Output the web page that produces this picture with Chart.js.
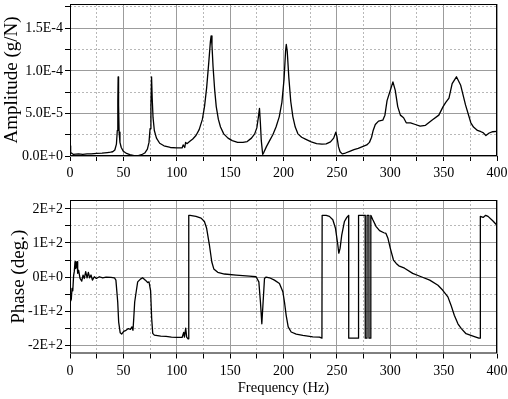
<!DOCTYPE html>
<html>
<head>
<meta charset="utf-8">
<script src="https://cdn.jsdelivr.net/npm/chart.js@4.4.0/dist/chart.umd.min.js"></script>
<style>
  html, body { margin: 0; padding: 0; background: #fff; }
  #wrap { position: relative; width: 508px; height: 399px; }
  .box { position: absolute; left: 0; width: 508px; }
  #ampBox { top: 0; height: 190px; }
  #phaseBox { top: 190px; height: 209px; }
</style>
</head>
<body>
<div id="wrap">
  <div class="box" id="ampBox"><canvas id="ampChart" width="508" height="190"></canvas></div>
  <div class="box" id="phaseBox"><canvas id="phaseChart" width="508" height="209"></canvas></div>
</div>
<script>
// amplitude (values in 1E-5 g/N)
const ampFreq = [0, 0.6, 3, 8, 12, 16, 20, 25, 30, 35, 38, 40, 42, 43.5, 44.3, 44.8, 45.1, 45.5, 46, 46.8, 48, 50, 53, 56, 60, 64, 67, 70, 72.5, 74, 75, 75.8, 76.4, 77, 77.8, 79, 81, 84, 88, 94, 100, 105, 106, 107.5, 108.3, 109.5, 112, 115, 118, 121, 124, 126, 128, 130, 131.5, 132.2, 133, 134, 135.5, 137, 139, 141, 144, 148, 152, 157, 162, 166, 170, 173, 175, 176.5, 177.5, 178.3, 179.2, 180.5, 181.5, 184, 187, 190, 193, 196, 198.5, 200.5, 202, 202.6, 203.5, 205, 206.8, 208.8, 211, 213.5, 217, 221, 226, 231, 236, 240, 244, 247, 249, 250, 251.5, 253, 255, 258, 262, 266, 270, 274, 278, 280.5, 282.5, 284, 286, 289, 293, 295, 297, 300, 302.5, 304.7, 307, 309.5, 312.5, 315, 319, 323.5, 328, 333, 339, 345.5, 349.5, 352, 355, 358, 362, 366, 370.5, 375.5, 378, 381.7, 385, 387, 389.6, 392.7, 396, 400];
const ampValues = [1.2, 0.4, 0.2, 0.25, 0.2, 0.25, 0.25, 0.3, 0.33, 0.4, 0.45, 0.5, 0.7, 1.4, 3.0, 6.5, 9.3, 6.0, 2.8, 1.6, 1.0, 0.55, 0.3, 0.15, 0.05, 0.05, 0.15, 0.35, 0.8, 1.6, 3.2, 6.0, 9.3, 6.8, 4.5, 3.0, 2.1, 1.5, 1.2, 1.0, 0.95, 0.95, 1.3, 1.0, 1.6, 1.45, 1.7, 2.0, 2.4, 3.1, 4.3, 5.8, 8.0, 11.0, 13.4, 14.1, 13.0, 10.5, 7.8, 5.8, 4.3, 3.4, 2.6, 2.1, 1.8, 1.6, 1.6, 1.7, 2.1, 2.6, 3.3, 4.6, 5.6, 4.0, 1.8, 0.2, 0.4, 1.1, 1.8, 2.5, 3.4, 4.6, 6.3, 9.0, 12.4, 13.1, 12.3, 9.2, 6.4, 4.6, 3.4, 2.6, 2.2, 1.95, 1.65, 1.46, 1.4, 1.42, 1.65, 2.1, 2.8, 2.3, 1.1, 0.5, 0.25, 0.35, 0.55, 0.75, 0.9, 1.1, 1.3, 1.6, 2.2, 3.0, 3.7, 4.1, 4.2, 4.8, 6.5, 7.7, 8.7, 7.7, 5.8, 4.8, 4.5, 3.9, 3.9, 3.7, 3.5, 3.6, 4.2, 4.8, 5.8, 6.3, 6.8, 8.5, 9.3, 8.3, 6.0, 3.9, 3.4, 3.0, 2.85, 2.75, 2.4, 2.7, 2.85, 2.9];

// phase in degrees
const phaseFreq = [0, 0.6, 1.2, 1.9, 2.6, 3.4, 4, 4.7, 5.3, 5.9, 6.6, 7.2, 8.1, 9.4, 11, 12.2, 13.4, 14.7, 16, 17.2, 18.4, 19.7, 21, 22.8, 24.7, 27.5, 30.6, 33.8, 38.4, 41.6, 43, 44.7, 45.6, 47, 48.4, 50.3, 52.5, 54.7, 56.6, 58, 59, 59.7, 60.6, 62, 63.4, 66, 68, 70.6, 72.8, 74, 75.5, 76.5, 77.5, 79, 85, 90, 95, 100, 105, 106.5, 107.2, 108.4, 109.3, 110.6, 111.2, 111.3, 112.5, 118, 122.8, 125.9, 128, 130.6, 132.8, 134.7, 138.4, 144.7, 155.6, 168, 174.3, 176.9, 178.4, 179.7, 180.9, 182.2, 183.7, 186.9, 191.5, 196.2, 199.4, 200.9, 202.5, 204.4, 207.2, 211.9, 218.1, 227.5, 233.7, 236, 236.2, 240, 243, 246.2, 248.7, 250.9, 251.8, 253, 254.6, 257.1, 259.3, 261, 261.1, 270.2, 270.3, 276.5, 276.6, 278.2, 278.3, 280, 280.1, 281.7, 281.8, 283.7, 286.8, 290, 294, 296, 297.8, 300, 303, 305.6, 308, 313.4, 321, 329, 337, 344.7, 349, 354, 357, 360, 363.4, 366.6, 371, 377.5, 383, 384.3, 384.4, 387, 389.4, 391.6, 396, 400];
const phaseValues = [-55, -70, -65, -33, -40, 5, 16, 45, 25, 30, 45, 11, 20, -4, -12, 6, -4, 16, -2, 14, -2, 6, -9, 1, -4, 1, -2, 0, -1, -2, -9, -73, -132, -163, -167, -159, -156, -151, -153, -146, -156, -122, -73, -43, -14, -6, -2, -9, -16, -14, -40, -120, -165, -170, -173, -174, -176, -177, -177, -162, -176, -150, -176, -181, -181, 181, 181, 178, 173, 163, 143, 94, 45, 24, 14, 9, 6, 3, 1, -14, -73, -137, -73, -4, 0, -2, -9, -19, -43, -73, -112, -146, -161, -167, -171, -175, -176, -179, 181, 181, 178, 168, 143, 94, 70, 84, 124, 163, 175, 181, -179, -179, 181, 181, -179, -179, 181, 181, -179, -179, 181, 168, 148, 136, 130, 128, 114, 85, 50, 40, 33, 26, 11, 1, -9, -24, -38, -58, -83, -112, -137, -151, -166, -173, -179, -179, 178, 175, 181, 178, 165, 152];

// tick positions (major ones get labels)
const freqTicks = [0, 25, 50, 75, 100, 125, 150, 175, 200, 225, 250, 275, 300, 325, 350, 375, 400];
const ampTicks = [0, 2.5, 5, 7.5, 10, 12.5, 15, 17.5];
const phaseTicks = [-200, -150, -100, -50, 0, 50, 100, 150, 200];

const serif = "'Liberation Serif', 'Times New Roman', serif";
Chart.defaults.color = '#000';
Chart.defaults.font.family = serif;

// box round the plot area
const framePlugin = {
    id: 'frame',
    afterDatasetsDraw(chart) {
        const a = chart.chartArea;
        const ctx = chart.ctx;
        ctx.save();
        ctx.strokeStyle = '#000';
        ctx.lineWidth = 1;
        ctx.strokeRect(a.left + 0.5, a.top + 0.5, a.right - a.left - 1, a.bottom - a.top - 1);
        ctx.restore();
    }
};

function gridFor(isMajor) {
    return {
        grid: {
            color: c => (c.tick && isMajor(c.tick.value)) ? '#9c9c9c' : '#b8b8b8',
            tickColor: '#000',
            tickLength: 5
        },
        border: {
            display: false,
            dash: c => (c.tick && !isMajor(c.tick.value)) ? [2, 2] : []
        }
    };
}

function useTicks(list) {
    return s => { s.ticks = list.map(v => ({ value: v })); };
}

function xAxis(height, padTicks, withTitle) {
    const isMajor = v => v % 50 === 0;
    return Object.assign({
        type: 'linear',
        min: 0,
        max: 400,
        afterBuildTicks: useTicks(freqTicks),
        ticks: {
            autoSkip: false,
            maxRotation: 0,
            padding: padTicks,
            font: { size: 14 },
            callback: v => isMajor(v) ? String(v) : ''
        },
        title: {
            display: withTitle,
            text: 'Frequency (Hz)',
            font: { size: 14.5 },
            padding: { top: 0, bottom: 2 }
        },
        afterFit: s => { s.height = height; s.paddingLeft = 0; s.paddingRight = 0; }
    }, gridFor(isMajor));
}

function lineData(xs, ys) {
    return {
        datasets: [{
            data: xs.map((f, i) => ({ x: f, y: ys[i] })),
            borderColor: '#000',
            borderWidth: 1.3,
            borderJoinStyle: 'round',
            pointRadius: 0,
            tension: 0,
            fill: false
        }]
    };
}

const ampMajor = v => Math.round(v / 2.5) % 2 === 0;
new Chart(document.getElementById('ampChart'), {
    type: 'line',
    data: lineData(ampFreq, ampValues),
    plugins: [framePlugin],
    options: {
        responsive: false,
        animation: false,
        events: [],
        layout: { padding: { top: 4, right: 11, left: 0, bottom: 0 } },
        plugins: { legend: { display: false }, tooltip: { enabled: false } },
        scales: {
            x: xAxis(34, 4, false),
            y: Object.assign({
                min: 0,
                max: 17.85,
                afterBuildTicks: useTicks(ampTicks),
                ticks: {
                    autoSkip: false,
                    padding: 2,
                    font: { size: 14 },
                    callback: v => ampMajor(v) ? (v * 1e-5).toExponential(1).toUpperCase() : ''
                },
                title: {
                    display: true,
                    text: 'Amplitude (g/N)',
                    font: { size: 19 },
                    padding: { top: 1, bottom: 0 }
                },
                afterFit: s => { s.width = 70; s.paddingTop = 0; s.paddingBottom = 0; }
            }, gridFor(ampMajor))
        }
    }
});

const phaseMajor = v => v % 100 === 0;
new Chart(document.getElementById('phaseChart'), {
    type: 'line',
    data: lineData(phaseFreq, phaseValues),
    plugins: [framePlugin],
    options: {
        responsive: false,
        animation: false,
        events: [],
        layout: { padding: { top: 10, right: 11, left: 0, bottom: 0 } },
        plugins: { legend: { display: false }, tooltip: { enabled: false } },
        scales: {
            x: xAxis(45.5, 4, true),
            y: Object.assign({
                min: -224,
                max: 226,
                afterBuildTicks: useTicks(phaseTicks),
                ticks: {
                    autoSkip: false,
                    padding: 2,
                    font: { size: 14 },
                    callback: v => phaseMajor(v) ? v.toExponential(0).toUpperCase() : ''
                },
                title: {
                    display: true,
                    text: 'Phase (deg.)',
                    font: { size: 19 },
                    padding: { top: 8, bottom: 0 }
                },
                afterFit: s => { s.width = 70; s.paddingTop = 0; s.paddingBottom = 0; }
            }, gridFor(phaseMajor))
        }
    }
});
</script>
</body>
</html>
